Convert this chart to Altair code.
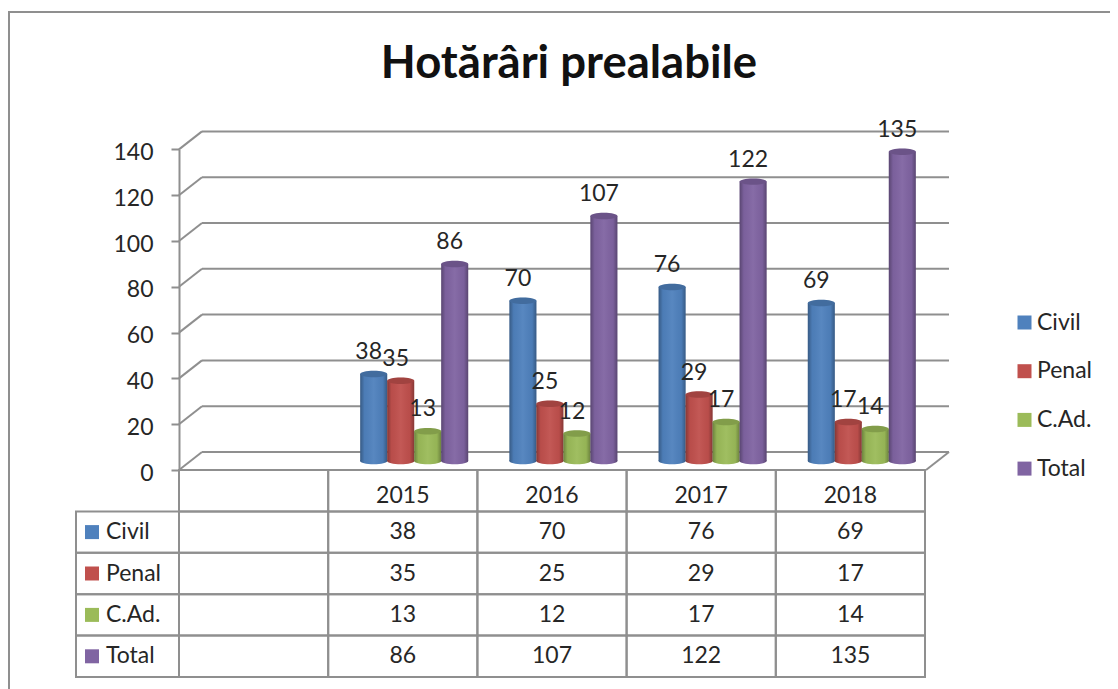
import altair as alt
import pandas as pd

TITLE = "Hotărâri prealabile"
YEARS = ["2015", "2016", "2017", "2018"]
SERIES = ["Civil", "Penal", "C.Ad.", "Total"]
CIVIL = [38, 70, 76, 69]
PENAL = [35, 25, 29, 17]
CAD = [13, 12, 17, 14]
TOTAL = [86, 107, 122, 135]
COLORS = ["#4F81BD", "#C0504D", "#9BBB59", "#8064A2"]
TICKS = [0, 20, 40, 60, 80, 100, 120, 140]

FONT = "Lato"
SIZE = 23
INK = "#262626"
GRID = "#8f8f8f"
BLANK = " "
HEADER = "header"
DEPTH = 7.86
ELLIPSE = "M-1,0A1,0.24,0,1,1,1,0A1,0.24,0,1,1,-1,0Z"

rows = []
for s, vals in zip(SERIES, [CIVIL, PENAL, CAD, TOTAL]):
    for y, v in zip(YEARS, vals):
        rows.append({"year": y, "series": s, "value": v, "zero": 0})
df = pd.DataFrame(rows)
ticks = pd.DataFrame({"tick": TICKS, "back": [t + DEPTH for t in TICKS]})
floor = ticks[ticks.tick == 0]
row_names = [HEADER] + SERIES
col_names = [BLANK] + YEARS
cells = pd.DataFrame([{"col": c, "row": r} for r in row_names for c in col_names])
labels = pd.DataFrame({"series": SERIES})
header = pd.DataFrame({"year": YEARS, "row": HEADER})

x_scale = alt.Scale(type="band", domain=col_names, range=[171, 917], paddingInner=0, paddingOuter=0)
off_scale = alt.Scale(type="band", domain=SERIES, range=[32, 140], paddingInner=0, paddingOuter=0)
axis_y = alt.Scale(domain=[0, 140], range=[462, 141.4], nice=False)
bar_y = alt.Scale(domain=[0, 140], range=[453, 132.4], nice=False)
row_y = alt.Scale(type="band", domain=row_names, range=[462, 669], paddingInner=0, paddingOuter=0)
color_scale = alt.Scale(domain=SERIES, range=COLORS)

X = alt.X("year:N", scale=x_scale, axis=None)
XO = alt.XOffset("series:N", scale=off_scale)
LEGEND = alt.Legend(
    orient="none", legendX=1005, legendY=303, title=None, symbolType="square", symbolSize=196,
    symbolStrokeWidth=0, labelFont=FONT, labelFontSize=SIZE, labelColor=INK, labelOffset=1,
    rowPadding=24.7, labelLimit=120)
C = alt.Color("series:N", scale=color_scale, title=None, legend=LEGEND)
SHADE = alt.Gradient(
    gradient="linear", x1=0, x2=1, y1=0, y2=0,
    stops=[
        alt.GradientStop(offset=0, color="rgba(0,0,0,0.30)"),
        alt.GradientStop(offset=0.16, color="rgba(0,0,0,0.04)"),
        alt.GradientStop(offset=0.5, color="rgba(255,255,255,0.05)"),
        alt.GradientStop(offset=0.84, color="rgba(0,0,0,0.04)"),
        alt.GradientStop(offset=1, color="rgba(0,0,0,0.30)"),
    ],
)
LINE = dict(color=GRID, strokeWidth=2)

frame_left = alt.Chart(floor).mark_rule(**LINE).encode(
    x=alt.value(1), y=alt.value(4), y2=alt.value(681))
frame_top = alt.Chart(floor).mark_rule(**LINE).encode(
    x=alt.value(0), x2=alt.value(1102), y=alt.value(4))

wall = alt.Chart(ticks).mark_rule(**LINE).encode(
    x=alt.value(194), x2=alt.value(941), y=alt.Y("back:Q", scale=axis_y, axis=None))
side = alt.Chart(ticks).mark_rule(**LINE).encode(
    x=alt.value(171), x2=alt.value(194),
    y=alt.Y("tick:Q", scale=axis_y, axis=None), y2="back:Q")
edge = alt.Chart(floor).mark_rule(**LINE).encode(
    x=alt.value(918), x2=alt.value(941),
    y=alt.Y("tick:Q", scale=axis_y, axis=None), y2="back:Q")
axis = alt.Chart(ticks).mark_tick(opacity=0).encode(
    y=alt.Y("tick:Q", scale=axis_y, title=None, axis=alt.Axis(
        values=TICKS, offset=-171, grid=False, tickSize=8, tickWidth=2, tickColor=GRID,
        domainColor=GRID, domainWidth=2, labelFont=FONT, labelFontSize=SIZE, labelColor=INK,
        labelPadding=18, labelOffset=3)),
    x=alt.value(171))

cell_grid = alt.Chart(cells).mark_rect(fill="white", fillOpacity=0, stroke=GRID, strokeWidth=2).encode(
    x=alt.X("col:N", scale=x_scale, axis=None),
    y=alt.Y("row:N", scale=row_y, axis=None))
label_grid = alt.Chart(labels).mark_rect(fill="white", fillOpacity=0, stroke=GRID, strokeWidth=2).encode(
    x=alt.value(68), x2=alt.value(171),
    y=alt.Y("series:N", scale=row_y, axis=None))
swatch = alt.Chart(labels).mark_point(filled=True, shape="square", size=196, opacity=1, strokeWidth=0).encode(
    x=alt.value(84),
    y=alt.Y("series:N", scale=row_y, axis=None),
    color=C)
label_text = alt.Chart(labels).mark_text(font=FONT, fontSize=SIZE, color=INK, align="left", baseline="middle").encode(
    x=alt.value(98), y=alt.Y("series:N", scale=row_y, axis=None), text="series:N")
header_text = alt.Chart(header).mark_text(font=FONT, fontSize=SIZE, color=INK, baseline="middle", dy=5).encode(
    x=X, y=alt.Y("row:N", scale=row_y, axis=None), text="year:N")
cell_text = alt.Chart(df).mark_text(font=FONT, fontSize=SIZE, color=INK, baseline="middle").encode(
    x=X, y=alt.Y("series:N", scale=row_y, axis=None), text="value:Q")

base_fill = alt.Chart(df).mark_point(filled=True, shape=ELLIPSE, size=729, opacity=1, strokeWidth=0).encode(
    x=X, xOffset=XO, y=alt.Y("zero:Q", scale=bar_y, axis=None), color=C)
base_shade = alt.Chart(df).mark_point(filled=True, shape=ELLIPSE, size=729, opacity=1, strokeWidth=0, fill=SHADE).encode(
    x=X, xOffset=XO, y=alt.Y("zero:Q", scale=bar_y, axis=None))
body = alt.Chart(df).mark_bar().encode(
    x=X, xOffset=XO,
    y=alt.Y("value:Q", scale=bar_y, axis=None), y2="zero:Q",
    color=C)
body_shade = alt.Chart(df).mark_bar(color=SHADE).encode(
    x=X, xOffset=XO, y=alt.Y("value:Q", scale=bar_y, axis=None), y2="zero:Q")
cap_fill = alt.Chart(df).mark_point(filled=True, shape=ELLIPSE, size=729, opacity=1, strokeWidth=0).encode(
    x=X, xOffset=XO, y=alt.Y("value:Q", scale=bar_y, axis=None), color=C)
cap_shade = alt.Chart(df).mark_point(filled=True, shape=ELLIPSE, size=729, opacity=0.16, strokeWidth=0, color="black").encode(
    x=X, xOffset=XO, y=alt.Y("value:Q", scale=bar_y, axis=None))
value_text = alt.Chart(df).mark_text(font=FONT, fontSize=SIZE, color=INK, baseline="middle", dx=-5, dy=-22).encode(
    x=X, xOffset=XO, y=alt.Y("value:Q", scale=bar_y, axis=None), text="value:Q")

chart = alt.layer(
    frame_left, frame_top, wall, side, edge, axis,
    cell_grid, label_grid, swatch, label_text, header_text, cell_text,
    base_fill, base_shade, body, body_shade, cap_fill, cap_shade, value_text,
).resolve_scale(y="independent").properties(
    width=1102, height=681, padding=0, autosize=alt.AutoSizeParams(type="none"),
    title=alt.TitleParams(TITLE, font=FONT, fontSize=45.5, fontWeight="bold", color="#111111",
                          anchor="middle", dx=10, offset=-71, dy=54, baseline="bottom"),
).configure_view(stroke=None)

chart.save("out.html", embed_options={"renderer": "svg", "actions": False})
